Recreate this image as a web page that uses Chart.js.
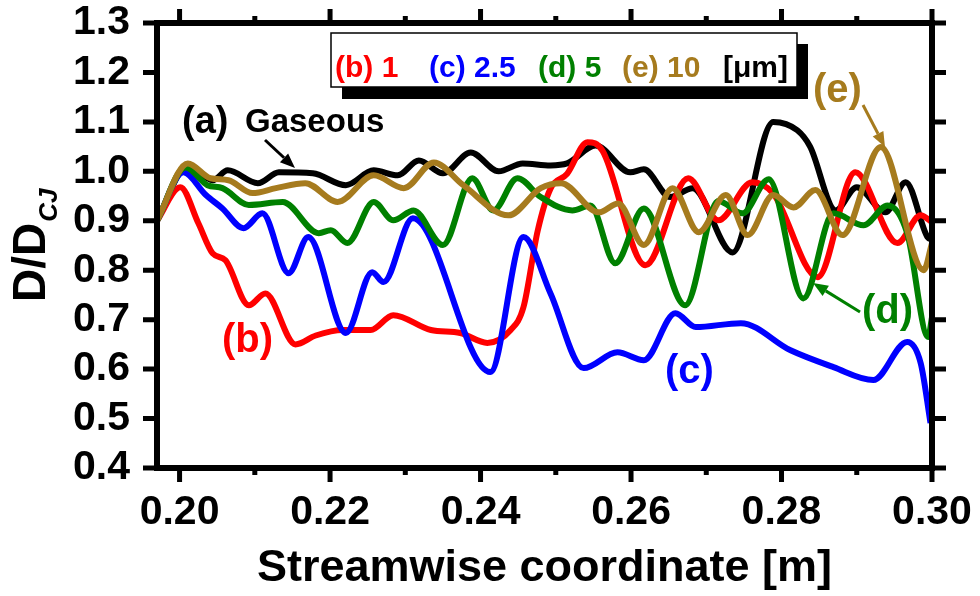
<!DOCTYPE html>
<html lang="en"><head>
<meta charset="utf-8"/>
<title>D/DCJ vs streamwise coordinate</title>
<script src="https://cdn.jsdelivr.net/npm/chart.js"></script>
<style>
    html, body { margin: 0; padding: 0; background: #fff; }
    #wrap { width: 980px; height: 596px; }
</style>
</head>
<body>
<div id="wrap"><canvas id="c" width="980" height="596"></canvas></div>
<script>
        // (a) gaseous
        const gasX = [0.197, 0.2011, 0.2044, 0.2064, 0.2104, 0.2132, 0.2177, 0.2221, 0.2258, 0.2290, 0.2318, 0.2350, 0.2387, 0.2424, 0.2456, 0.2493, 0.2515, 0.2553, 0.2599, 0.2617, 0.2652, 0.2682, 0.2735, 0.2789, 0.2821, 0.2838, 0.2872, 0.2900, 0.2938, 0.2965, 0.2994, 0.300];
        const gasY = [0.900, 1.012, 0.982, 1.002, 0.976, 0.998, 0.996, 0.972, 1.002, 0.992, 1.022, 0.996, 1.038, 1.000, 1.016, 1.012, 1.016, 1.052, 0.998, 1.004, 0.948, 0.966, 0.836, 1.100, 1.083, 1.050, 0.921, 0.968, 0.917, 0.978, 0.867, 0.862];
        // (b) 1 um
        const oneX = [0.197, 0.2001, 0.2025, 0.2044, 0.2061, 0.2092, 0.2114, 0.2154, 0.2181, 0.2217, 0.2254, 0.2284, 0.2334, 0.2373, 0.2409, 0.2440, 0.2457, 0.2476, 0.2493, 0.2515, 0.2542, 0.2562, 0.2619, 0.2676, 0.2716, 0.2761, 0.2789, 0.2848, 0.2898, 0.2954, 0.2985, 0.300];
        const oneY = [0.900, 0.968, 0.895, 0.834, 0.820, 0.729, 0.753, 0.650, 0.668, 0.679, 0.679, 0.709, 0.679, 0.673, 0.653, 0.679, 0.725, 0.880, 0.965, 0.995, 1.059, 1.042, 0.810, 0.986, 0.901, 0.978, 0.955, 0.786, 0.998, 0.855, 0.911, 0.897];
        // (c) 2.5 um
        const twoX = [0.197, 0.2005, 0.2035, 0.2057, 0.2085, 0.2110, 0.2145, 0.2171, 0.2221, 0.2256, 0.2271, 0.2310, 0.2413, 0.2457, 0.2493, 0.2537, 0.2582, 0.2617, 0.2659, 0.2686, 0.2746, 0.2812, 0.2869, 0.2922, 0.2967, 0.2985, 0.2998];
        const twoY = [0.900, 0.998, 0.952, 0.925, 0.885, 0.915, 0.794, 0.867, 0.673, 0.796, 0.776, 0.905, 0.594, 0.867, 0.753, 0.602, 0.634, 0.618, 0.713, 0.685, 0.693, 0.638, 0.604, 0.578, 0.655, 0.612, 0.491];
        // (d) 5 um
        const fiveX = [0.197, 0.2008, 0.2037, 0.2057, 0.2092, 0.2137, 0.2185, 0.2201, 0.2223, 0.2258, 0.2284, 0.2311, 0.2350, 0.2389, 0.2417, 0.2449, 0.2480, 0.2522, 0.2546, 0.2579, 0.2617, 0.2672, 0.2716, 0.2748, 0.2783, 0.2829, 0.2869, 0.2909, 0.2941, 0.2967, 0.2995, 0.300];
        const fiveY = [0.900, 1.008, 0.972, 0.966, 0.932, 0.938, 0.875, 0.881, 0.855, 0.938, 0.901, 0.921, 0.851, 0.986, 0.921, 0.986, 0.948, 0.921, 0.931, 0.814, 0.925, 0.729, 0.940, 0.915, 0.984, 0.743, 0.915, 0.891, 0.931, 0.875, 0.665, 0.705];
        // (e) 10 um
        const tenX = [0.197, 0.2011, 0.2041, 0.2065, 0.2097, 0.2128, 0.2167, 0.2210, 0.2258, 0.2298, 0.2338, 0.2377, 0.2437, 0.2480, 0.2507, 0.2557, 0.2583, 0.2617, 0.2655, 0.2690, 0.2726, 0.2755, 0.2789, 0.2816, 0.2845, 0.2881, 0.2932, 0.2989, 0.300];
        const tenY = [0.900, 1.016, 0.986, 0.982, 0.956, 0.966, 0.976, 0.938, 0.992, 0.966, 1.018, 0.972, 0.911, 0.966, 0.976, 0.917, 0.935, 0.851, 0.966, 0.877, 0.952, 0.871, 0.952, 0.927, 0.962, 0.871, 1.049, 0.800, 0.855];

        const xTicks = [0.20, 0.22, 0.24, 0.26, 0.28, 0.30];
        const xMinor = [0.21, 0.23, 0.25, 0.27, 0.29];
        const yTicks = [0.4, 0.5, 0.6, 0.7, 0.8, 0.9, 1.0, 1.1, 1.2, 1.3];

        const RED = '#ff0000', BLUE = '#0000ff', GREEN = '#008000', BROWN = '#a67b1e';
        const FONT = "'Liberation Sans', Arial, sans-serif";

        function pts(xs, ys) {
            return xs.map((x, i) => ({ x: x, y: ys[i] }));
        }
        function line(data, color) {
            return {
                data: data,
                borderColor: color,
                borderWidth: 6,
                pointRadius: 0,
                fill: false,
                cubicInterpolationMode: 'monotone'
            };
        }

        function arrow(ctx, x1, y1, x2, y2, color) {
            const a = Math.atan2(y2 - y1, x2 - x1);
            const hl = 15, hw = 6;
            ctx.strokeStyle = color;
            ctx.fillStyle = color;
            ctx.lineWidth = 3;
            ctx.beginPath();
            ctx.moveTo(x1, y1);
            ctx.lineTo(x2 - hl * Math.cos(a), y2 - hl * Math.sin(a));
            ctx.stroke();
            ctx.beginPath();
            ctx.moveTo(x2, y2);
            ctx.lineTo(x2 - hl * Math.cos(a) + hw * Math.sin(a), y2 - hl * Math.sin(a) - hw * Math.cos(a));
            ctx.lineTo(x2 - hl * Math.cos(a) - hw * Math.sin(a), y2 - hl * Math.sin(a) + hw * Math.cos(a));
            ctx.closePath();
            ctx.fill();
        }

        const framePlugin = {
            id: 'frame',
            afterDatasetsDraw(chart) {
                const ctx = chart.ctx;
                const a = chart.chartArea;
                const xs = chart.scales.x, ys = chart.scales.y;
                ctx.save();
                ctx.strokeStyle = '#000';
                ctx.lineWidth = 6;
                ctx.strokeRect(a.left, a.top, a.right - a.left, a.bottom - a.top);
                ctx.lineWidth = 5;
                ctx.beginPath();
                xTicks.forEach(v => {
                    const p = xs.getPixelForValue(v);
                    ctx.moveTo(p, a.bottom); ctx.lineTo(p, a.bottom + 14);
                    ctx.moveTo(p, a.top); ctx.lineTo(p, a.top - 14);
                });
                xMinor.forEach(v => {
                    const p = xs.getPixelForValue(v);
                    ctx.moveTo(p, a.bottom); ctx.lineTo(p, a.bottom + 7);
                    ctx.moveTo(p, a.top); ctx.lineTo(p, a.top - 7);
                });
                yTicks.forEach(v => {
                    const p = ys.getPixelForValue(v);
                    ctx.moveTo(a.left, p); ctx.lineTo(a.left - 14, p);
                    ctx.moveTo(a.right, p); ctx.lineTo(a.right + 14, p);
                });
                ctx.stroke();
                ctx.restore();
            },
            afterDraw(chart) {
                const ctx = chart.ctx;
                ctx.save();
                // y axis title with subscript
                ctx.translate(45, 302);
                ctx.rotate(-Math.PI / 2);
                ctx.fillStyle = '#000';
                ctx.textBaseline = 'alphabetic';
                ctx.font = 'bold 46px ' + FONT;
                ctx.fillText('D/D', 0, 0);
                const w = ctx.measureText('D/D').width;
                ctx.font = 'italic bold 26px ' + FONT;
                ctx.fillText('CJ', w + 1, 12);
                ctx.restore();

                // legend box
                ctx.save();
                ctx.fillStyle = '#000';
                ctx.fillRect(342, 44, 466, 55);
                ctx.fillStyle = '#fff';
                ctx.fillRect(331, 33, 466, 54);
                ctx.strokeStyle = '#000';
                ctx.lineWidth = 1.5;
                ctx.strokeRect(331, 33, 466, 54);
                ctx.font = 'bold 30px ' + FONT;
                ctx.textBaseline = 'alphabetic';
                const items = [['(b) 1', RED, 335], ['(c) 2.5', BLUE, 429], ['(d) 5', GREEN, 538], ['(e) 10', BROWN, 622], ['[\u03bcm]', '#000', 723]];
                items.forEach(it => { ctx.fillStyle = it[1]; ctx.fillText(it[0], it[2], 77); });

                // curve labels
                ctx.fillStyle = '#000';
                ctx.font = 'bold 38px ' + FONT;
                ctx.fillText('(a)', 182, 133);
                ctx.font = 'bold 33px ' + FONT;
                ctx.fillText('Gaseous', 245, 132);
                ctx.font = 'bold 40px ' + FONT;
                ctx.fillStyle = RED; ctx.fillText('(b)', 222, 352);
                ctx.fillStyle = BLUE; ctx.fillText('(c)', 665, 383);
                ctx.fillStyle = GREEN; ctx.fillText('(d)', 862, 323);
                ctx.fillStyle = BROWN; ctx.fillText('(e)', 813, 102);
                arrow(ctx, 265, 140, 295, 168, '#000');
                arrow(ctx, 860, 312, 813, 283, GREEN);
                arrow(ctx, 863, 105, 885, 147, BROWN);
                ctx.restore();
            }
        };

        new Chart(document.getElementById('c'), {
            type: 'line',
            data: {
                datasets: [
                    line(pts(tenX, tenY), BROWN),
                    line(pts(fiveX, fiveY), GREEN),
                    line(pts(twoX, twoY), BLUE),
                    line(pts(oneX, oneY), RED),
                    line(pts(gasX, gasY), '#000')
                ]
            },
            options: {
                responsive: false,
                animation: false,
                devicePixelRatio: 1,
                layout: { padding: { top: 23, right: 48, left: 0, bottom: 0 } },
                plugins: { legend: { display: false }, tooltip: { enabled: false } },
                scales: {
                    x: {
                        type: 'linear',
                        min: 0.197,
                        max: 0.300,
                        afterBuildTicks: s => { s.ticks = xTicks.map(v => ({ value: v })); },
                        afterFit: s => { s.height = 128; s.paddingLeft = 0; s.paddingRight = 0; },
                        grid: { display: false, drawTicks: false },
                        border: { display: false },
                        ticks: {
                            autoSkip: false,
                            maxRotation: 0,
                            padding: 20,
                            color: '#000',
                            font: { family: FONT, size: 41, weight: 'bold' },
                            callback: v => v.toFixed(2)
                        },
                        title: {
                            display: true,
                            text: 'Streamwise coordinate [m]',
                            color: '#000',
                            font: { family: FONT, size: 45, weight: 'bold' },
                            padding: { top: 0, bottom: 0 }
                        }
                    },
                    y: {
                        min: 0.4,
                        max: 1.3,
                        afterBuildTicks: s => { s.ticks = yTicks.map(v => ({ value: v })); },
                        afterFit: s => { s.width = 157; s.paddingTop = 0; s.paddingBottom = 0; },
                        grid: { display: false, drawTicks: false },
                        border: { display: false },
                        ticks: {
                            autoSkip: false,
                            padding: 27,
                            color: '#000',
                            font: { family: FONT, size: 41, weight: 'bold' },
                            callback: v => v.toFixed(1)
                        }
                    }
                }
            },
            plugins: [framePlugin]
        });
    </script>
</body></html>
